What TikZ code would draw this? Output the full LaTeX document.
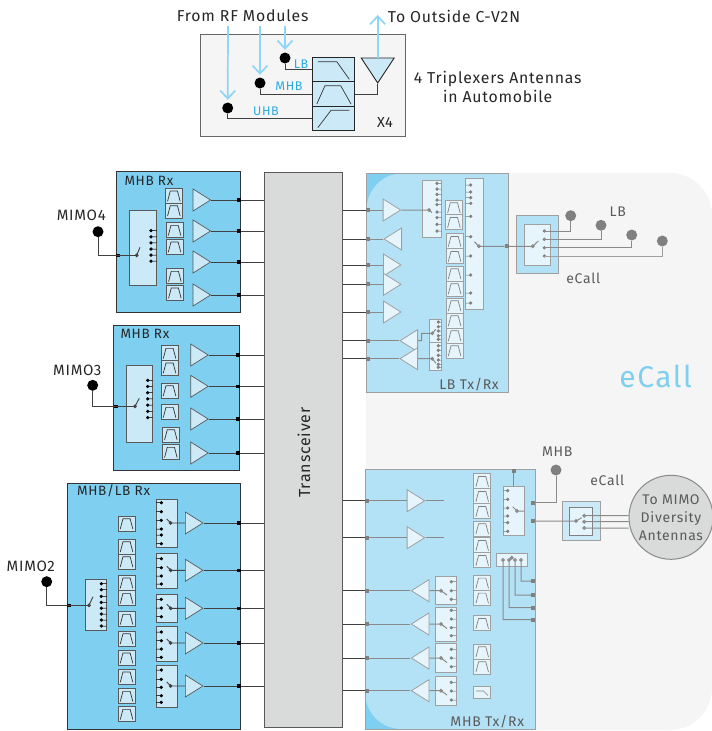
\documentclass[tikz,border=0pt]{standalone}
\usepackage{fontspec}
\setmainfont[LetterSpace=5]{Fira Sans}
\usetikzlibrary{shapes.geometric,arrows.meta}
\definecolor{rxblue}{HTML}{7FCFF0}
\definecolor{txblue}{HTML}{B3E2F6}
\definecolor{cellblue}{HTML}{CCE9F8}
\definecolor{mutecell}{HTML}{E6F5FC}
\definecolor{regiongray}{HTML}{F5F5F5}
\definecolor{xcvrgray}{HTML}{D9DBDA}
\definecolor{linkblue}{HTML}{29ABE2}
\definecolor{arrowblue}{HTML}{8DD6F5}
\definecolor{edgegray}{HTML}{A0A0A0}
\definecolor{wiregray}{HTML}{8A8A8A}
\definecolor{textgray}{HTML}{5A5A5A}
\tikzset{
  lbl/.style={font=\fontsize{15.8}{18.5}\selectfont,text=black!85,align=center,inner sep=0pt},
  lblmimo/.style={font=\fontsize{15}{18}\selectfont,text=black!85,inner sep=0pt},
  lblsm/.style={font=\fontsize{13.5}{16}\selectfont,text=black!85,inner sep=0pt},
  lblgray/.style={font=\fontsize{14}{16}\selectfont,text=textgray,inner sep=0pt},
  lblblue/.style={font=\fontsize{12.5}{14}\selectfont,text=linkblue,inner sep=0pt},
  wire/.style={draw=black!75,line width=.9pt},
  wirem/.style={draw=wiregray,line width=1pt},
  rfarrow/.style={draw=arrowblue,line width=1.7pt,shorten >=2.5pt,-{Straight Barb[length=8pt,width=15pt]}},
  antdot/.style={circle,fill=black,inner sep=0pt,minimum size=11pt},
  antdotm/.style={circle,fill=black!50,inner sep=0pt,minimum size=11pt},
  term/.style={rectangle,fill=black,inner sep=0pt,minimum size=3.6pt},
  termm/.style={rectangle,fill=black!50,inner sep=0pt,minimum size=4pt},
  rxpanel/.style={fill=rxblue,draw=black!80,line width=.8pt},
  swrx/.style={fill=cellblue,draw=black!65,line width=.7pt},
  swtx/.style={fill=mutecell,draw=edgegray,line width=.8pt},
  stubrx/.style={draw=black,fill=black,line width=.5pt},
  stubtx/.style={draw=black!50,fill=black!50,line width=.5pt},
  amprx/.style={isosceles triangle,isosceles triangle stretches,anchor=lower side,inner sep=0pt,
    minimum width=22pt,minimum height=17.5pt,fill=cellblue,draw=black!65,line width=.7pt},
  amptx/.style={amprx,fill=mutecell,draw=edgegray,line width=.8pt},
  ampright/.style={shape border rotate=0},
  ampleft/.style={shape border rotate=180},
  glyph/.style={draw=black!80,line width=.7pt},
  glyphm/.style={draw=black!50,line width=.7pt},
  bpf/.style={rectangle,anchor=north west,inner sep=0pt,minimum width=17pt,minimum height=15pt,
    fill=cellblue,draw=black!65,line width=.7pt,
    path picture={\draw[glyph] ([shift={(-6.3,5.5)}]path picture bounding box.center) -- ([shift={(-3.6,-4.8)}]path picture bounding box.center) -- ([shift={(3.6,-4.8)}]path picture bounding box.center) -- ([shift={(6.3,5.5)}]path picture bounding box.center);}},
  bpfm/.style={rectangle,anchor=north west,inner sep=0pt,minimum width=17pt,minimum height=15pt,
    fill=mutecell,draw=edgegray,line width=.8pt,
    path picture={\draw[glyphm] ([shift={(-6.3,5.5)}]path picture bounding box.center) -- ([shift={(-3.6,-4.8)}]path picture bounding box.center) -- ([shift={(3.6,-4.8)}]path picture bounding box.center) -- ([shift={(6.3,5.5)}]path picture bounding box.center);}},
  trip/.style={rectangle,inner sep=0pt,minimum width=42pt,fill=cellblue,draw=black!85,line width=.9pt},
  xcvr/.style={rectangle,inner sep=0pt,minimum width=77.5pt,minimum height=555pt,fill=xcvrgray,draw=black!65,line width=.8pt},
}
\begin{document}
\begin{tikzpicture}[x=1pt,y=-1pt]
\useasboundingbox (0,0) rectangle (712,731);

% triplexer inset
\draw[fill=regiongray,draw=black!60,line width=.8pt] (200.7,34) rectangle (405,136);
\node[lbl] (lblfrom) at (242.7,16) {From RF Modules};
\node[lbl] (lblto) at (454,16) {To Outside C-V2N};
\node[lbl] (lbltrip) at (497.7,87) {4 Triplexers Antennas\\in Automobile};
\node[lblsm,font=\fontsize{14.5}{16}\selectfont] (lblx) at (385,123) {X4};
\node[lblblue] (lbllb) at (301,64) {LB};
\node[lblblue] (lblmhb) at (289,86) {MHB};
\node[lblblue] (lbluhb) at (266,111) {UHB};
\node[antdot] (dotlb) at (285,58) {};
\node[antdot] (dotmhb) at (260,83) {};
\node[antdot] (dotuhb) at (227.7,108) {};
\node[trip,minimum height=24.4pt] (triplb) at (333.8,69.5) {};
\node[trip,minimum height=24.6pt] (tripmhb) at (333.8,94) {};
\node[trip,minimum height=24pt] (tripuhb) at (333.8,118.3) {};
\draw[glyph] ([shift={(-16,-7.8)}]triplb.center) -- ([shift={(3,-7.8)}]triplb.center) -- ([shift={(15.5,9.8)}]triplb.center);
\draw[glyph] ([shift={(-17,10)}]tripmhb.center) -- ([shift={(-8.8,-8.3)}]tripmhb.center) -- ([shift={(6.9,-8.3)}]tripmhb.center) -- ([shift={(17.2,10)}]tripmhb.center);
\draw[glyph] ([shift={(-16,9.4)}]tripuhb.center) -- ([shift={(-2.8,-8)}]tripuhb.center) -- ([shift={(15.5,-8)}]tripuhb.center);
\node[isosceles triangle,isosceles triangle stretches,shape border rotate=270,anchor=lower side,inner sep=0pt,minimum width=33pt,minimum height=25pt,fill=cellblue,draw=black!85,line width=.9pt] (ant) at (377.7,57.5) {};
\draw[wire] (dotlb) |- (triplb);
\draw[wire] (dotmhb) |- (tripmhb);
\draw[wire] (dotuhb) |- (tripuhb);
\draw[wire] (ant.apex) |- (tripmhb);
\coordinate (inlb) at (285,26);
\coordinate (inmhb) at (260,26);
\coordinate (inuhb) at (228,26);
\coordinate (outant) at (377.7,12.5);
\draw[rfarrow] (inlb) -- (dotlb);
\draw[rfarrow] (inmhb) -- (dotmhb);
\draw[rfarrow] (inuhb) -- (dotuhb);
\draw[rfarrow] (ant.lower side) -- (outant);

% eCall region and transceiver
\fill[regiongray,rounded corners=42pt] (366,173) rectangle (712,730);
\node[xcvr] (xc) at (303.5,449.5) {};
\node[lbl,font=\fontsize{16}{18}\selectfont,rotate=90] (lblxc) at (304,452.5) {Transceiver};

% MIMO4 receive block
\draw[rxpanel] (116.7,171.7) rectangle (240.3,312);
\node[lblsm,anchor=west] (lblrx4) at (124.3,180.7) {MHB Rx};
\node[lblmimo] (lblmimo4) at (81.3,215) {MIMO4};
\node[antdot] (dotm4) at (98,231.7) {};
\node[term] (inm4) at (118,255.3) {};
\coordinate (piv4) at (136.7,255.3);
\draw[swrx] (129.7,210.7) rectangle (156.7,285.3);
\draw[wire] (dotm4) |- (piv4);
\draw[wire] (piv4) circle (1.4) -- (140,247.3);
\draw[stubrx] (151,230.7) circle (1.4) -- +(5.7,0) (151,236.8) circle (1.4) -- +(5.7,0) (151,242.9) circle (1.4) -- +(5.7,0) (151,249) circle (1.4) -- +(5.7,0) (151,255.1) circle (1.4) -- +(5.7,0) (151,261.2) circle (1.4) -- +(5.7,0);
\node[bpf] (f41) at (165,188) {};
\node[bpf] (f42) at (165,202.7) {};
\node[bpf] (f43) at (165.7,222.3) {};
\node[bpf] (f44) at (165.7,239) {};
\node[bpf] (f45) at (166,268.3) {};
\node[bpf] (f46) at (166,285) {};
\node[amprx,ampright] (a41) at (192.7,200) {};
\node[amprx,ampright] (a42) at (192.7,231) {};
\node[amprx,ampright] (a43) at (192.7,262) {};
\node[amprx,ampright] (a44) at (192.7,295) {};
\node[term] (t41) at (239,200) {};
\node[term] (t42) at (239,231) {};
\node[term] (t43) at (239,262) {};
\node[term] (t44) at (239,295) {};
\draw[wire] (a41.apex) -- (t41) -- (t41 -| xc.west);
\draw[wire] (a42.apex) -- (t42) -- (t42 -| xc.west);
\draw[wire] (a43.apex) -- (t43) -- (t43 -| xc.west);
\draw[wire] (a44.apex) -- (t44) -- (t44 -| xc.west);

% MIMO3 receive block
\draw[rxpanel] (113.7,325.3) rectangle (239.7,470.3);
\node[lblsm,anchor=west] (lblrx3) at (120.3,334) {MHB Rx};
\node[lblmimo] (lblmimo3) at (77.3,370) {MIMO3};
\node[antdot] (dotm3) at (92.7,385.3) {};
\node[term] (inm3) at (116,406.3) {};
\coordinate (piv3) at (135,406.3);
\draw[swrx] (126.3,365.7) rectangle (152.7,442.7);
\draw[wire] (dotm3) |- (piv3);
\draw[wire] (piv3) circle (1.4) -- (139.3,398.3);
\draw[stubrx] (147.7,380.3) circle (1.4) -- +(5,0) (147.7,386.5) circle (1.4) -- +(5,0) (147.7,392.7) circle (1.4) -- +(5,0) (147.7,398.9) circle (1.4) -- +(5,0) (147.7,405.1) circle (1.4) -- +(5,0) (147.7,411.3) circle (1.4) -- +(5,0) (147.7,417.6) circle (1.4) -- +(5,0);
\node[bpf] (f31) at (160.7,345.3) {};
\node[bpf] (f32) at (160.7,360) {};
\node[bpf] (f33) at (160.7,382.7) {};
\node[bpf] (f34) at (160.7,404.3) {};
\node[bpf] (f35) at (162,426.7) {};
\node[bpf] (f36) at (162,444.3) {};
\node[amprx,ampright] (a31) at (190.3,355) {};
\node[amprx,ampright] (a32) at (190.3,386.3) {};
\node[amprx,ampright] (a33) at (190.3,419) {};
\node[amprx,ampright] (a34) at (190.3,453) {};
\node[term] (t31) at (238,355) {};
\node[term] (t32) at (238,386.3) {};
\node[term] (t33) at (238,419) {};
\node[term] (t34) at (238,453) {};
\draw[wire] (a31.apex) -- (t31) -- (t31 -| xc.west);
\draw[wire] (a32.apex) -- (t32) -- (t32 -| xc.west);
\draw[wire] (a33.apex) -- (t33) -- (t33 -| xc.west);
\draw[wire] (a34.apex) -- (t34) -- (t34 -| xc.west);

% MIMO2 receive block
\draw[rxpanel] (67.3,483.3) rectangle (240.3,729);
\node[lblsm,anchor=west] (lblrx2) at (77,490.7) {MHB/LB Rx};
\node[lblmimo] (lblmimo2) at (30.7,566) {MIMO2};
\node[antdot] (dotm2) at (46.7,581.7) {};
\node[term] (inm2) at (69,605.3) {};
\coordinate (piv2) at (89,605.3);
\draw[swrx] (85.3,579.3) rectangle (106.7,630.3);
\draw[wire] (dotm2) |- (piv2);
\draw[wire] (piv2) circle (1.4) -- (93,596.7);
\draw[stubrx] (101.3,583.7) circle (1.4) -- +(5.4,0) (101.3,589.7) circle (1.4) -- +(5.4,0) (101.3,596.4) circle (1.4) -- +(5.4,0) (101.3,602.4) circle (1.4) -- +(5.4,0) (101.3,608.2) circle (1.4) -- +(5.4,0) (101.3,614) circle (1.4) -- +(5.4,0) (101.3,620) circle (1.4) -- +(5.4,0) (101.3,626) circle (1.4) -- +(5.4,0);
\node[bpf] (f21) at (117.7,515.7) {};
\node[bpf] (f22) at (117.7,538.7) {};
\node[bpf] (f23) at (117.7,553.7) {};
\node[bpf] (f24) at (117.7,575) {};
\node[bpf] (f25) at (117.7,590.3) {};
\node[bpf] (f26) at (117.7,611.3) {};
\node[bpf] (f27) at (117.7,630.7) {};
\node[bpf] (f28) at (117.7,650) {};
\node[bpf] (f29) at (117.7,669) {};
\node[bpf] (f210) at (117.7,688.3) {};
\node[bpf] (f211) at (117.7,706.3) {};
\draw[swrx] (156.3,499.3) rectangle (177.7,547.3);
\draw[swrx] (156.3,553.3) rectangle (177.7,588.3);
\draw[swrx] (156.3,594.3) rectangle (177.7,622.7);
\draw[swrx] (156.3,626.3) rectangle (177.7,661.3);
\draw[swrx] (156.3,665.3) rectangle (177.7,707.7);
\draw[stubrx] (161.3,502.7) circle (1.4) -- +(-5,0) (161.3,511.7) circle (1.4) -- +(-5,0) (161.3,520.3) circle (1.4) -- +(-5,0) (161.3,529) circle (1.4) -- +(-5,0) (161.3,535) circle (1.4) -- +(-5,0) (161.3,543.7) circle (1.4) -- +(-5,0);
\draw[stubrx] (161.3,558.7) circle (1.4) -- +(-5,0) (161.3,567.7) circle (1.4) -- +(-5,0) (161.3,576) circle (1.4) -- +(-5,0) (161.3,584) circle (1.4) -- +(-5,0);
\draw[stubrx] (161.3,599.3) circle (1.4) -- +(-5,0) (161.3,608) circle (1.4) -- +(-5,0) (161.3,616.7) circle (1.4) -- +(-5,0);
\draw[stubrx] (161.3,632) circle (1.4) -- +(-5,0) (161.3,640.7) circle (1.4) -- +(-5,0) (161.3,649) circle (1.4) -- +(-5,0) (161.3,657.3) circle (1.4) -- +(-5,0);
\draw[stubrx] (161.3,670) circle (1.4) -- +(-5,0) (161.3,679.3) circle (1.4) -- +(-5,0) (161.3,687.3) circle (1.4) -- +(-5,0) (161.3,695.7) circle (1.4) -- +(-5,0) (161.3,702.3) circle (1.4) -- +(-5,0);
\coordinate (p21) at (170.7,523);
\coordinate (p22) at (170.7,570.3);
\coordinate (p23) at (170.7,608.3);
\coordinate (p24) at (170.7,643);
\coordinate (p25) at (170.7,686);
\node[amprx,ampright] (a21) at (185,523) {};
\node[amprx,ampright] (a22) at (185,570.3) {};
\node[amprx,ampright] (a23) at (185,608.3) {};
\node[amprx,ampright] (a24) at (185,643) {};
\node[amprx,ampright] (a25) at (185,686) {};
\draw[wire] (p21) circle (1.4) -- (166.7,519) (p21) -- (a21.lower side);
\draw[wire] (p22) circle (1.4) -- (166.7,566.3) (p22) -- (a22.lower side);
\draw[wire] (p23) circle (1.4) -- (166.7,604.3) (p23) -- (a23.lower side);
\draw[wire] (p24) circle (1.4) -- (166.7,639) (p24) -- (a24.lower side);
\draw[wire] (p25) circle (1.4) -- (166.7,682) (p25) -- (a25.lower side);
\node[term] (t21) at (238.7,523) {};
\node[term] (t22) at (238.7,570.3) {};
\node[term] (t23) at (238.7,608.3) {};
\node[term] (t24) at (238.7,643) {};
\node[term] (t25) at (238.7,686) {};
\draw[wire] (a21.apex) -- (t21) -- (t21 -| xc.west);
\draw[wire] (a22.apex) -- (t22) -- (t22 -| xc.west);
\draw[wire] (a23.apex) -- (t23) -- (t23 -| xc.west);
\draw[wire] (a24.apex) -- (t24) -- (t24 -| xc.west);
\draw[wire] (a25.apex) -- (t25) -- (t25 -| xc.west);

% LB Tx/Rx block
\fill[rxblue] (366.7,173.3) rectangle (404,210);
\fill[txblue,rounded corners=36pt] (366.7,392.7) -- (366.7,173.3) [sharp corners] -- (508.3,173.3) -- (508.3,392.7) -- cycle;
\draw[edgegray,line width=.9pt] (366.7,173.3) rectangle (508.3,392.7);
\node[lblgray] (lbllbtx) at (469,385) {LB Tx/Rx};
\node[amptx,ampright] (l1) at (382.7,210) {};
\node[amptx,ampleft] (l2) at (402,239) {};
\node[amptx,ampright] (l3) at (383,265) {};
\node[amptx,ampright] (l4) at (383,284.3) {};
\node[amptx,ampright] (l5) at (383,312) {};
\node[amptx,ampleft] (l6) at (418,340.7) {};
\node[amptx,ampleft] (l7) at (418,358.7) {};
\node[termm] (tl1) at (368,210) {};
\node[termm] (tl2) at (368,239) {};
\node[termm] (tl3) at (368,265) {};
\node[termm] (tl4) at (368,284.3) {};
\node[termm] (tl5) at (368,312) {};
\node[termm] (tl6) at (368,340.7) {};
\node[termm] (tl7) at (368,358.7) {};
\draw[wire] (tl1) -- (tl1 -| xc.east);
\draw[wire] (tl2) -- (tl2 -| xc.east);
\draw[wire] (tl3) -- (tl3 -| xc.east);
\draw[wire] (tl4) -- (tl4 -| xc.east);
\draw[wire] (tl5) -- (tl5 -| xc.east);
\draw[wire] (tl6) -- (tl6 -| xc.east);
\draw[wire] (tl7) -- (tl7 -| xc.east);
\draw[wirem] (tl1) -- (l1.lower side);
\draw[wirem] (tl2) -- (l2.apex);
\draw[wirem] (tl3) -- (l3.lower side);
\draw[wirem] (tl4) -- (l4.lower side);
\draw[wirem] (tl5) -- (l5.lower side);
\draw[wirem] (tl6) -- (l6.apex);
\draw[wirem] (tl7) -- (l7.apex);
\draw[swtx] (422.7,180.3) rectangle (441.7,237);
\draw[stubtx] (437,183.3) circle (1.4) -- +(4.7,0) (437,189) circle (1.4) -- +(4.7,0) (437,194.3) circle (1.4) -- +(4.7,0) (437,200) circle (1.4) -- +(4.7,0) (437,204.7) circle (1.4) -- +(4.7,0) (437,212) circle (1.4) -- +(4.7,0) (437,217.7) circle (1.4) -- +(4.7,0) (437,224.3) circle (1.4) -- +(4.7,0) (437,231) circle (1.4) -- +(4.7,0);
\coordinate (pl1) at (429,210);
\draw[wirem] (l1.apex) -- (pl1) circle (1.4) -- (432,212.7);
\draw[swtx] (465.7,178.7) rectangle (483,309.7);
\draw[stubtx] (470.7,185) circle (1.4) -- +(-5,0) (470.7,192) circle (1.4) -- +(-5,0) (470.7,197.7) circle (1.4) -- +(-5,0) (470.7,203.3) circle (1.4) -- +(-5,0) (470.7,216.3) circle (1.4) -- +(-5,0) (470.7,236.7) circle (1.4) -- +(-5,0) (470.7,256) circle (1.4) -- +(-5,0) (470.7,275) circle (1.4) -- +(-5,0) (470.7,293) circle (1.4) -- +(-5,0) (470.7,303) circle (1.4) -- +(-5,0);
\coordinate (plb) at (479,246.3);
\draw[wirem] (plb) circle (1.4) -- (474.3,241.7);
\node[bpfm] (g1) at (445,199.7) {};
\node[bpfm] (g2) at (445,214.3) {};
\node[bpfm] (g3) at (445.7,233.3) {};
\node[bpfm] (g4) at (445.7,248.3) {};
\node[bpfm] (g5) at (445.7,265.7) {};
\node[bpfm] (g6) at (445.7,280.7) {};
\node[bpfm] (g7) at (445.7,297.7) {};
\node[bpfm] (g8) at (445.7,312.7) {};
\node[bpfm] (g9) at (445.7,327.7) {};
\node[bpfm] (g10) at (445.7,342.7) {};
\draw[swtx] (429.3,319.3) rectangle (441.7,342.7);
\draw[swtx] (429.3,342.7) rectangle (441.7,370);
\draw[stubtx] (438.3,322) circle (1.4) -- +(3.4,0) (438.3,326.7) circle (1.4) -- +(3.4,0) (438.3,331) circle (1.4) -- +(3.4,0) (438.3,335.7) circle (1.4) -- +(3.4,0) (438.3,339.3) circle (1.4) -- +(3.4,0);
\draw[stubtx] (438.3,345.7) circle (1.4) -- +(3.4,0) (438.3,350.3) circle (1.4) -- +(3.4,0) (438.3,355.3) circle (1.4) -- +(3.4,0) (438.3,360) circle (1.4) -- +(3.4,0) (438.3,364.3) circle (1.4) -- +(3.4,0) (438.3,367.3) circle (1.4) -- +(3.4,0);
\coordinate (pl6) at (432.3,333.3);
\coordinate (pl7) at (432.3,358.7);
\draw[wirem] (l6.lower side) -| (421.7,333.3) -- (pl6) circle (1.4) -- (435.7,329.3);
\draw[wirem] (l7.lower side) -- (pl7) circle (1.4) -- (436,363.3);
\node[termm] (tlbout) at (506.7,246.3) {};

% LB eCall switch
\draw[edgegray,line width=.9pt,fill=txblue] (516.7,215.3) rectangle (558.7,273);
\draw[edgegray,line width=.9pt,fill=mutecell] (524.3,224) rectangle (550.3,265.3);
\draw[stubtx] (544.3,231) circle (1.4) (544.3,239.3) circle (1.4) (544.3,247.7) circle (1.4) (544.3,256) circle (1.4);
\coordinate (pec1) at (532.7,246.3);
\draw[wirem] (plb) -- (tlbout) -- (pec1) circle (1.4) -- (538.3,241);
\node[antdotm] (e1) at (570.7,215.7) {};
\node[antdotm] (e2) at (601,225.3) {};
\node[antdotm] (e3) at (631.7,235) {};
\node[antdotm] (e4) at (662.3,241) {};
\coordinate (w1) at (544.3,231);
\coordinate (w2) at (544.3,239.3);
\coordinate (w3) at (544.3,247.7);
\coordinate (w4) at (544.3,256);
\draw[wirem] (e1) |- (w1);
\draw[wirem] (e2) |- (w2);
\draw[wirem] (e3) |- (w3);
\draw[wirem,draw=edgegray] (e4) |- (w4);
\node[lblgray] (lbllbant) at (617.7,211.7) {LB};
\node[lblgray] (lblec1) at (583.3,278.3) {eCall};
\node[font=\fontsize{30}{32}\selectfont,text=rxblue,inner sep=0pt] (lblecall) at (655.7,376) {eCall};

% MHB Tx/Rx block
\fill[rxblue] (365.3,692) rectangle (402,729);
\fill[txblue,rounded corners=36pt] (402,729) -- (365.3,729) -- (365.3,600) [sharp corners] -- (365.3,469.3) -- (535,469.3) -- (535,729) -- cycle;
\draw[edgegray,line width=.9pt] (365.3,469.3) rectangle (535,729);
\node[lblgray] (lblmhbtx) at (487.3,722) {MHB Tx/Rx};
\node[amptx,ampright] (m1) at (406.7,500.7) {};
\node[amptx,ampright] (m2) at (406.7,537.7) {};
\node[amptx,ampleft] (m3) at (429.3,590.7) {};
\node[amptx,ampleft] (m4) at (429.3,624) {};
\node[amptx,ampleft] (m5) at (429.3,658) {};
\node[amptx,ampleft] (m6) at (429.3,690.7) {};
\node[termm] (tm1) at (367,500.7) {};
\node[termm] (tm2) at (367,537.7) {};
\node[termm] (tm3) at (367,590.7) {};
\node[termm] (tm4) at (367,624) {};
\node[termm] (tm5) at (367,658) {};
\node[termm] (tm6) at (367,690.7) {};
\coordinate (mo1) at (443.7,500.7);
\coordinate (mo2) at (443.7,537.7);
\draw[wire] (tm1) -- (tm1 -| xc.east);
\draw[wire] (tm2) -- (tm2 -| xc.east);
\draw[wire] (tm3) -- (tm3 -| xc.east);
\draw[wire] (tm4) -- (tm4 -| xc.east);
\draw[wire] (tm5) -- (tm5 -| xc.east);
\draw[wire] (tm6) -- (tm6 -| xc.east);
\draw[wirem] (tm1) -- (m1.lower side) (m1.apex) -- (mo1);
\draw[wirem] (tm2) -- (m2.lower side) (m2.apex) -- (mo2);
\draw[wirem] (tm3) -- (m3.apex);
\draw[wirem] (tm4) -- (m4.apex);
\draw[wirem] (tm5) -- (m5.apex);
\draw[wirem] (tm6) -- (m6.apex);
\draw[swtx] (435.3,576) rectangle (456.7,604.3);
\draw[swtx] (435.3,607) rectangle (456.7,641.3);
\draw[swtx] (435.3,643.7) rectangle (456.7,672.3);
\draw[swtx] (435.3,676.7) rectangle (456.7,705.3);
\draw[stubtx] (451.3,581.7) circle (1.4) -- +(5.4,0) (451.3,590.7) circle (1.4) -- +(5.4,0) (451.3,599.3) circle (1.4) -- +(5.4,0);
\draw[stubtx] (451.3,610.3) circle (1.4) -- +(5.4,0) (451.3,619) circle (1.4) -- +(5.4,0) (451.3,627.7) circle (1.4) -- +(5.4,0) (451.3,635.7) circle (1.4) -- +(5.4,0);
\draw[stubtx] (451.3,649.3) circle (1.4) -- +(5.4,0) (451.3,658) circle (1.4) -- +(5.4,0) (451.3,666.7) circle (1.4) -- +(5.4,0);
\draw[stubtx] (451.3,682.3) circle (1.4) -- +(5.4,0) (451.3,691) circle (1.4) -- +(5.4,0) (451.3,700) circle (1.4) -- +(5.4,0);
\coordinate (pm3) at (441,590.7);
\coordinate (pm4) at (441,624);
\coordinate (pm5) at (441,658);
\coordinate (pm6) at (441,690.7);
\draw[wirem] (m3.lower side) -- (pm3) circle (1.4) -- (447,595);
\draw[wirem] (m4.lower side) -- (pm4) circle (1.4) -- (447,628.5);
\draw[wirem] (m5.lower side) -- (pm5) circle (1.4) -- (447,662.5);
\draw[wirem] (m6.lower side) -- (pm6) circle (1.4) -- (447,695);
\node[bpfm] (h1) at (473.3,473.3) {};
\node[bpfm] (h2) at (473.3,488.3) {};
\node[bpfm] (h3) at (473.3,503.3) {};
\node[bpfm] (h4) at (473.3,520.7) {};
\node[bpfm] (h5) at (473.3,537.3) {};
\node[bpfm] (h6) at (473.3,552.3) {};
\node[bpfm] (h7) at (473.3,575) {};
\node[bpfm] (h8) at (473.3,590) {};
\node[bpfm] (h9) at (473.3,615.3) {};
\node[bpfm] (h10) at (473.3,643.7) {};
\node[bpfm] (h11) at (473.3,658.7) {};
\draw[swtx] (473.3,686) rectangle (490.3,698.3);
\draw[glyphm] (476,691) -- (483.5,691) -- (488,695.5);
\node[termm] (tmtop) at (513.7,471) {};
\draw[wirem] (tmtop) -- (513.7,486.7);
\draw[swtx] (503,486.7) rectangle (524.3,535);
\draw[stubtx] (507.7,490.7) circle (1.4) -- +(-4.7,0) (507.7,499.3) circle (1.4) -- +(-4.7,0) (507.7,508) circle (1.4) -- +(-4.7,0) (507.7,516) circle (1.4) -- +(-4.7,0) (507.7,522.7) circle (1.4) -- +(-4.7,0) (507.7,531.3) circle (1.4) -- +(-4.7,0);
\draw[wirem] (517,511) circle (1.4) -- (512.7,506.7) (517,511) -- (524.3,511);
\draw[swtx] (496.7,553.7) rectangle (527.7,566.3);
\draw[wirem] (511.7,557.7) circle (1.4) -- (509.5,560);
\node[termm] (tq1) at (533,581) {};
\node[termm] (tq2) at (533,595) {};
\node[termm] (tq3) at (533,607.7) {};
\node[termm] (tq4) at (533,619.7) {};
\coordinate (sq1) at (521,560);
\coordinate (sq2) at (515,560);
\coordinate (sq3) at (509,560);
\coordinate (sq4) at (503,560);
\draw[wirem] (sq1) circle (1.4) |- (tq1);
\draw[wirem] (sq2) circle (1.4) |- (tq2);
\draw[wirem] (sq3) circle (1.4) |- (tq3);
\draw[wirem] (sq4) circle (1.4) |- (tq4);

% MHB eCall switch and antennas
\node[termm] (tout1) at (533,502.7) {};
\node[termm] (tout2) at (533,521) {};
\node[antdotm] (dotmhbant) at (556,470) {};
\draw[wirem] (tout1) -| (dotmhbant);
\draw[edgegray,line width=.9pt,fill=cellblue] (562,501) rectangle (600.7,540.7);
\draw[black!50,line width=.9pt,fill=mutecell] (569.3,507.7) rectangle (592.7,535.7);
\node[circle,inner sep=0pt,minimum size=84pt,fill=xcvrgray,draw=wiregray,line width=1pt,font=\fontsize{14}{18}\selectfont,text=textgray,align=center] (mimoant) at (671,517.3) {To MIMO\\Diversity\\Antennas};
\coordinate (pec2) at (576,521);
\coordinate (v1) at (584.3,515.7);
\coordinate (v2) at (584.3,521.7);
\coordinate (v3) at (584.3,528);
\draw[wirem] (tout2) -- (pec2) circle (1.4) -- (581.7,517.7);
\draw[wirem] (v1) circle (1.4) -- (v1 -| mimoant.west);
\draw[wirem] (v2) circle (1.4) -- (v2 -| mimoant.west);
\draw[wirem] (v3) circle (1.4) -- (v3 -| mimoant.west);
\node[lblgray] (lblmhbant) at (557.3,451.7) {MHB};
\node[lblgray] (lblec2) at (607.3,480.7) {eCall};

\end{tikzpicture}
\end{document}
